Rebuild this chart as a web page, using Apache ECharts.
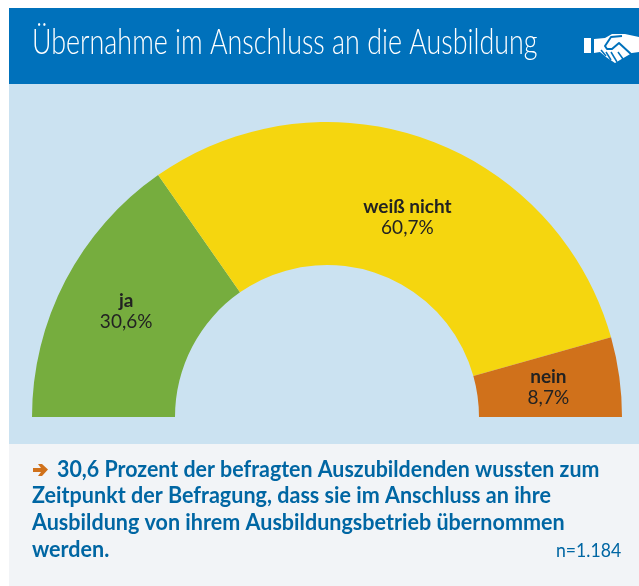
<!DOCTYPE html>
<html><head><meta charset="utf-8">
<style>html,body{margin:0;padding:0;background:#fff}#c{width:639px;height:586px}</style>
<script src="https://cdn.jsdelivr.net/npm/echarts@6/dist/echarts.min.js"></script>
</head><body><div id="c"></div>
<script>
const categories = ['ja', 'weiß nicht', 'nein'];
const values = [30.6, 60.7, 8.7];
const colors = ['#76AD3E', '#F5D60F', '#D0711B'];
const labelShiftX = [0, 4, -3];
const labelShiftY = [-1, 14, 1];
const titleText = 'Übernahme im Anschluss an die Ausbildung';
const noteLines = ['30,6 Prozent der befragten Auszubildenden wussten zum','Zeitpunkt der Befragung, dass sie im Anschluss an ihre','Ausbildung von ihrem Ausbildungsbetrieb übernommen','werden.'];
const sampleText = 'n=1.184';
const FONT = 'Lato,"Noto Sans",sans-serif';
const chart = echarts.init(document.getElementById('c'), null, {renderer:'canvas'});
const poly = (pts,fill) => ({type:'polygon',shape:{points:pts},style:{fill:fill||'#fff'},silent:true});
const pl = (pts,w) => ({type:'polyline',shape:{points:pts},style:{stroke:'#0071BB',fill:null,lineWidth:w||2,lineJoin:'round'},silent:true});
const noteFont = 'bold 23px '+FONT;
chart.setOption({
  animation:false,
  backgroundColor:'#fff',
  graphic:[
    {type:'rect',z:-10,shape:{x:9,y:8,width:630,height:76},style:{fill:'#0071BB'},silent:true},
    {type:'rect',z:-10,shape:{x:9,y:84,width:630,height:360},style:{fill:'#CBE2F1'},silent:true},
    {type:'rect',z:-10,shape:{x:9,y:444,width:630,height:142},style:{fill:'#F2F4F7'},silent:true},
    {type:'text',x:32,y:25,scaleX:0.768,style:{text:titleText,fill:'#fff',font:'300 35px '+FONT}},
    poly([[584,38],[591,38],[591,53],[584,53]]),
    poly([[594,39],[605,38],[612,34],[625,34],[639,37],[639,52],[632,53],[620,60],[615,63],[606,57],[600,52],[594,53]]),
    pl([[622,36],[611,37],[605,46],[607,49],[612,49],[619,43],[632,55]]),
    pl([[601,50],[606,56]],1.5),pl([[606,52],[611,60]],1.5),pl([[611,52],[617,62]],1.5),pl([[618,52],[623,59]],1.5),
    poly([[33,468],[41,468],[38,464],[42,464],[48,469.5],[42,476],[38,476],[41,472],[33,472]],'#D0711B'),
    {type:'text',x:57,y:458,scaleX:0.93,style:{text:noteLines[0],fill:'#0066A3',font:noteFont}},
    {type:'text',x:32,y:484,scaleX:0.937,style:{text:noteLines[1],fill:'#0066A3',font:noteFont}},
    {type:'text',x:32,y:511,scaleX:0.937,style:{text:noteLines[2],fill:'#0066A3',font:noteFont}},
    {type:'text',x:32,y:538,scaleX:0.937,style:{text:noteLines[3],fill:'#0066A3',font:noteFont}},
    {type:'text',x:556,y:541,scaleX:0.93,style:{text:sampleText,fill:'#0066A3',font:'19px '+FONT}}
  ],
  series:[{
    type:'pie',
    center:[327,417],
    radius:[152,295],
    startAngle:180,
    endAngle:0,
    silent:true,
    data:categories.map((n,i)=>({name:n,value:values[i],itemStyle:{color:colors[i]}})),
    label:{
      show:true,position:'inside',
      formatter:p=>'{n|'+p.name+'}\n{v|'+String(p.value).replace('.',',')+'%}',
      rich:{
        n:{fontFamily:'Lato',fontWeight:'bold',fontSize:19,color:'#222',lineHeight:21,align:'center'},
        v:{fontFamily:'Lato',fontSize:19,color:'#222',lineHeight:21,align:'center'}
      }
    },
    labelLayout:p=>({dx:labelShiftX[p.dataIndex],dy:labelShiftY[p.dataIndex]}),
    labelLine:{show:false}
  }]
});
</script></body></html>
